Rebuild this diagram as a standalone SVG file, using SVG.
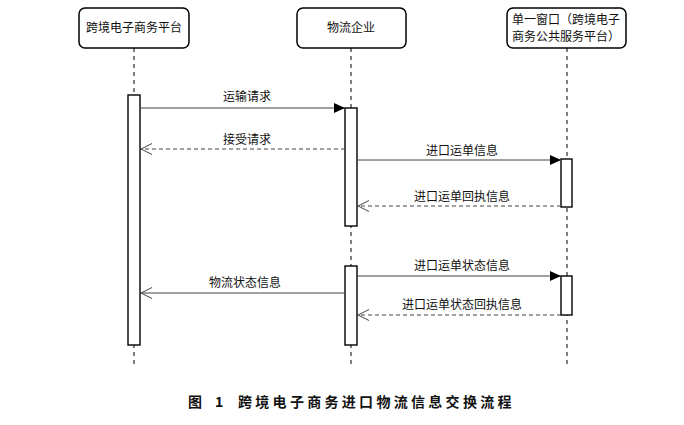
<svg xmlns="http://www.w3.org/2000/svg" width="684" height="425" viewBox="0 0 684 425">
<style>
.box{fill:#fff;stroke:#000;stroke-width:1.5}
.act{fill:#fff;stroke:#000;stroke-width:1.4}
.life{stroke:#000;stroke-width:1;stroke-dasharray:4 4;fill:none}
.msg{stroke:#444;stroke-width:1;fill:none}
.ret{stroke:#444;stroke-width:1;fill:none;stroke-dasharray:4 3}
text{font-family:"Noto Sans CJK SC","Liberation Sans",sans-serif;font-size:12px;fill:#111;text-anchor:middle}
.cap{font-size:14px;font-weight:bold;text-anchor:start}
</style>
<defs>
<marker id="fill" markerWidth="12" markerHeight="10" refX="11" refY="5" orient="auto" markerUnits="userSpaceOnUse">
<path d="M0,0 L11,5 L0,10 Z" fill="#000"/>
</marker>
<marker id="open" markerWidth="12" markerHeight="12" refX="11" refY="6" orient="auto" markerUnits="userSpaceOnUse">
<path d="M0,0.5 L11,6 L0,11.5" fill="none" stroke="#444" stroke-width="1"/>
</marker>
</defs>
<g id="lifelines">
<line class="life" x1="134" y1="48" x2="134" y2="366"/>
<line class="life" x1="351" y1="48" x2="351" y2="366"/>
<line class="life" x1="567" y1="48" x2="567" y2="366"/>
</g>
<g id="platform">
<rect class="box" x="79" y="8" width="110" height="40" rx="6"/>
<text x="134" y="32">跨境电子商务平台</text>
</g>
<g id="logistics">
<rect class="box" x="297" y="8" width="109" height="40" rx="6"/>
<text x="351" y="32">物流企业</text>
</g>
<g id="singlewindow">
<rect class="box" x="507" y="8" width="119" height="40" rx="6"/>
<text x="566" y="24">单一窗口（跨境电子</text>
<text x="566" y="41">商务公共服务平台）</text>
</g>
<g id="activations">
<rect class="act" x="128" y="95" width="12" height="250"/>
<rect class="act" x="345" y="108" width="12" height="118"/>
<rect class="act" x="345" y="266" width="12" height="79"/>
<rect class="act" x="561" y="159" width="11" height="48"/>
<rect class="act" x="561" y="276" width="11" height="39"/>
</g>
<g id="connectors">
<line class="msg" x1="140" y1="108" x2="345" y2="108" marker-end="url(#fill)"/>
<line class="ret" x1="345" y1="149" x2="141" y2="149" marker-end="url(#open)"/>
<line class="msg" x1="357" y1="160" x2="561" y2="160" marker-end="url(#fill)"/>
<line class="ret" x1="561" y1="206" x2="358" y2="206" marker-end="url(#open)"/>
<line class="msg" x1="357" y1="276" x2="561" y2="276" marker-end="url(#fill)"/>
<line class="ret" x1="561" y1="315" x2="358" y2="315" marker-end="url(#open)"/>
<line class="msg" x1="345" y1="293" x2="141" y2="293" marker-end="url(#open)"/>
</g>
<g id="labels">
<text x="247" y="101">运输请求</text>
<text x="247" y="144">接受请求</text>
<text x="462" y="155">进口运单信息</text>
<text x="462" y="201">进口运单回执信息</text>
<text x="462" y="270">进口运单状态信息</text>
<text x="462" y="309">进口运单状态回执信息</text>
<text x="245" y="287">物流状态信息</text>
</g>
<g id="caption">
<text class="cap" x="188" y="407">图</text>
<text class="cap" x="215" y="407">1</text>
<text class="cap" x="238" y="407" letter-spacing="3.3">跨境电子商务进口物流信息交换流程</text>
</g>
</svg>
